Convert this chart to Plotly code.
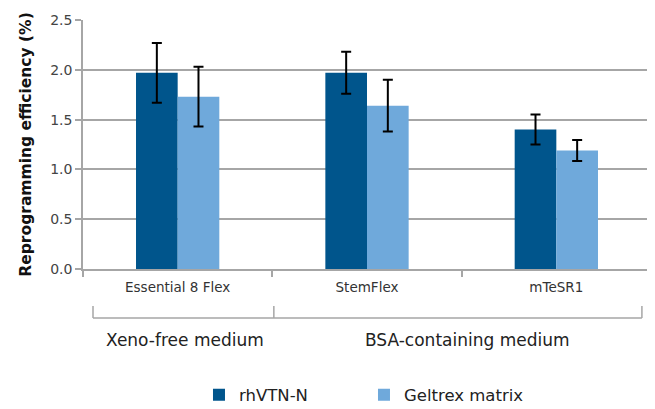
import plotly.graph_objects as go

categories = ["Essential 8 Flex", "StemFlex", "mTeSR1"]
series_names = ["rhVTN-N", "Geltrex matrix"]
rhvtn_values = [1.97, 1.97, 1.40]
rhvtn_errors = [0.30, 0.21, 0.15]
geltrex_values = [1.73, 1.64, 1.19]
geltrex_errors = [0.30, 0.26, 0.105]
group_labels = ["Xeno-free medium", "BSA-containing medium"]
y_ticks = [0.0, 0.5, 1.0, 1.5, 2.0, 2.5]

DARK = "#00558c"
LIGHT = "#6fa9db"
GRID = "#a6a6a6"
FONT = "DejaVu Sans, Liberation Sans, sans-serif"

fig = go.Figure()
fig.add_trace(go.Bar(
    x=categories, y=rhvtn_values, name=series_names[0], marker_color=DARK,
    marker_line_width=0,
    error_y=dict(type="data", array=rhvtn_errors, color="black", thickness=2, width=5),
))
fig.add_trace(go.Bar(
    x=categories, y=geltrex_values, name=series_names[1], marker_color=LIGHT,
    marker_line_width=0,
    error_y=dict(type="data", array=geltrex_errors, color="black", thickness=2, width=5),
))

# bracket lines under the category labels (paper coordinates)
ly_top, ly_bot = -0.149, -0.197
bx = [0.0176, 0.336, 0.984]
shapes = [dict(type="line", xref="paper", yref="paper", x0=bx[0], x1=bx[2], y0=ly_bot, y1=ly_bot,
               line=dict(color=GRID, width=1.5))]
for xv in bx:
    shapes.append(dict(type="line", xref="paper", yref="paper", x0=xv, x1=xv, y0=ly_top, y1=ly_bot,
                       line=dict(color=GRID, width=1.5)))

annotations = [
    dict(text=group_labels[0], xref="paper", yref="paper", x=0.1796, y=-0.285, showarrow=False,
         xanchor="center", yanchor="middle", font=dict(size=17, color="#222", family=FONT)),
    dict(text=group_labels[1], xref="paper", yref="paper", x=0.677, y=-0.285, showarrow=False,
         xanchor="center", yanchor="middle", font=dict(size=17, color="#222", family=FONT)),
]

# page body has an 8px margin, so the figure is 8px smaller and margins shifted
fig.update_layout(
    width=647, height=401,
    margin=dict(l=75, r=4, t=12, b=140, autoexpand=False),
    paper_bgcolor="white", plot_bgcolor="white",
    barmode="group", bargap=0.56, bargroupgap=0,
    font=dict(family=FONT, color="#333"),
    shapes=shapes, annotations=annotations,
    legend=dict(orientation="h", x=0.2042, xanchor="left", y=-0.506, yanchor="middle",
                font=dict(size=16.5, color="#222"), entrywidth=120, entrywidthmode="pixels"),
    showlegend=True,
)
fig.update_xaxes(
    automargin=False,
    showline=True, linecolor=GRID, linewidth=1.5,
    ticks="outside", tickson="boundaries", ticklen=6, tickcolor=GRID, tickwidth=1.5,
    tickfont=dict(size=13.5, color="#333"), showgrid=False, ticklabelstandoff=5,
)
fig.update_yaxes(
    automargin=False,
    range=[0, 2.5], tickvals=y_ticks, tickformat=".1f",
    showline=True, linecolor=GRID, linewidth=1.5,
    ticks="outside", ticklen=6, tickcolor=GRID, tickwidth=1.5,
    showgrid=True, gridcolor=GRID, gridwidth=1.5,
    tickfont=dict(size=14, color="#444"),
    title=dict(text="<b>Reprogramming efficiency (%)</b>", font=dict(size=15.5, color="#111"), standoff=15),
    zeroline=False,
)

fig.write_html("out.html")
